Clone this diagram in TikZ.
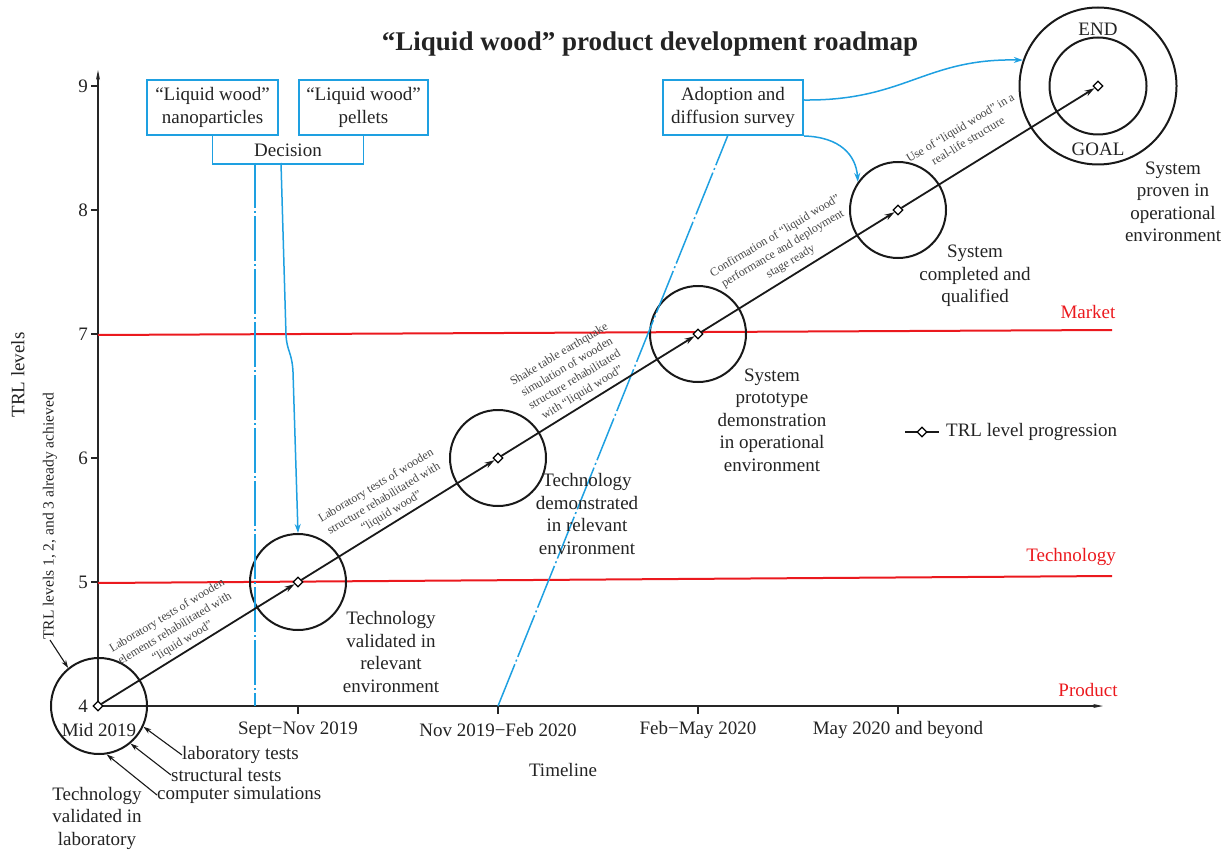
\documentclass[tikz,border=0pt]{standalone}
\usepackage{fontspec}
\setmainfont{Liberation Serif}
\usetikzlibrary{shapes.geometric,arrows.meta}
\definecolor{bl}{RGB}{30,160,225}
\definecolor{rd}{RGB}{235,25,30}
\definecolor{tx}{RGB}{35,35,35}
\definecolor{sm}{RGB}{70,70,70}
\begin{document}
\begin{tikzpicture}[x=1pt,y=-1pt,
  lbl/.style={font=\fontsize{19}{22.5}\selectfont, text=tx, align=center, inner sep=0},
  rlbl/.style={font=\fontsize{19}{22.5}\selectfont, text=rd, inner sep=0},
  small/.style={font=\fontsize{12}{15}\selectfont, text=sm, align=center, inner sep=0, rotate=31},
  ring/.style={circle, draw=black!90, line width=2pt, minimum size=96pt, inner sep=0},
  mk/.style={diamond, draw=black, fill=white, line width=1.2pt, inner sep=0, minimum size=10pt},
  prog/.style={line width=1.8pt, draw=black!90, -{Stealth[length=10pt,width=6pt]}},
  bbox/.style={draw=bl, line width=2pt, minimum height=55pt, align=center, inner sep=0,
     font=\fontsize{19}{22.5}\selectfont, text=tx},
  bline/.style={draw=bl, line width=1.5pt},
  dd/.style={bline, dash pattern=on 45pt off 3pt on 2pt off 3pt},
  rline/.style={draw=rd, line width=2pt},
  pt/.style={-{Stealth[length=8pt,width=5pt]}, line width=1.1pt, draw=black!90},
  axis/.style={line width=1.2pt, draw=black!85, -{Stealth[length=10pt,width=4pt]}}
]
\useasboundingbox (0,0) rectangle (1222,850);

% title
\node[font=\fontsize{27}{30}\selectfont\bfseries, text=tx] (title) at (650,44) {“Liquid wood” product development roadmap};

% axes
\coordinate (O) at (98,706);
\coordinate (ytop) at (98,70);
\coordinate (xend) at (1103,706);
\draw[axis] (O) -- (ytop);
\draw[axis] (O) -- (xend);
\foreach \k/\yy in {5/582,6/458,7/334,8/210,9/86}{
  \draw[line width=1.2pt, black!85] (91,\yy) -- (98,\yy);
}
\foreach \k/\yy in {4/706,5/582,6/458,7/334,8/210,9/86}{
  \node[lbl, anchor=east] (yl\k) at (88,\yy) {\k};
}
\foreach \xx in {298,498,698,898}{
  \draw[line width=1.2pt, black!85] (\xx,706) -- (\xx,714);
}
\node[lbl] (xl1) at (99,730) {Mid 2019};
\node[lbl] (xl2) at (298,730) {Sept−Nov 2019};
\node[lbl] (xl3) at (498,730) {Nov 2019−Feb 2020};
\node[lbl] (xl4) at (698,730) {Feb−May 2020};
\node[lbl] (xl5) at (898,730) {May 2020 and beyond};
\node[lbl] (tl) at (563,770) {Timeline};
\node[lbl, rotate=90] (trl) at (18,375) {TRL levels};
\node[lbl, rotate=90, anchor=west, font=\fontsize{15.5}{18}\selectfont] (trl123) at (50,640) {TRL levels 1, 2, and 3 already achieved};

% red lines
\coordinate (m1) at (98,335); \coordinate (m2) at (1112,330);
\coordinate (t1) at (98,583); \coordinate (t2) at (1112,576);
\draw[rline] (m1) -- (m2);
\draw[rline] (t1) -- (t2);
\node[rlbl] (mkt) at (1088,312) {Market};
\node[rlbl] (tech) at (1071,557) {Technology};
\node[rlbl] (prod) at (1088,690) {Product};

% blue boxes and decision
\node[bbox, minimum width=131pt] (box1) at (212.5,107.5) {“Liquid wood”\\nanoparticles};
\node[bbox, minimum width=129pt] (box2) at (363.5,107.5) {“Liquid wood”\\pellets};
\draw[bline] (box1.south) -- ++(0,28) -| (box2.south);
\node[lbl] (dec) at (288,150) {Decision};
\node[bbox, minimum width=140pt] (adopt) at (733,107.5) {Adoption and\\diffusion survey};

% circles
\node[ring] (c4) at (99,706) {};
\node[ring] (c5) at (298,582) {};
\node[ring] (c6) at (498,458) {};
\node[ring] (c7) at (698,334) {};
\node[ring] (c8) at (898,210) {};
\node[ring, minimum size=157pt] (c9o) at (1098,86) {};
\node[ring, minimum size=97pt] (c9) at (1098,86) {};
\node[lbl] (end) at (1098,29) {END};
\node[lbl] (goal) at (1098,149) {GOAL};

% blue connectors
\coordinate (dd1) at (255,163); \coordinate (dd2) at (255,706);
\draw[dd] (dd1) -- (dd2);
\coordinate (ar1) at (281,163);
\draw[bline, -{Stealth[length=9pt,width=6pt]}] (ar1) -- (286,335) .. controls (287,352) and (292,352) .. (293,372) -- (c5.north);
\coordinate (dd3) at (498,706); \coordinate (dd4) at (728,135);
\draw[dd] (dd3) -- (dd4);
\draw[bline, -{Stealth[length=9pt,width=6pt]}] ([yshift=7.5pt]adopt.east) .. controls (905,101) and (925,58) .. (c9o.161);
\draw[bline, -{Stealth[length=9pt,width=6pt]}] (adopt.south east) .. controls (840,137) and (856,155) .. (c8.145);

% progression
\node[mk] (d4) at (98,706) {};
\node[mk] (d5) at (298,582) {};
\node[mk] (d6) at (498,458) {};
\node[mk] (d7) at (698,334) {};
\node[mk] (d8) at (898,210) {};
\node[mk] (d9) at (1098,86) {};
\draw[prog] (d4) -- (d5);
\draw[prog] (d5) -- (d6);
\draw[prog] (d6) -- (d7);
\draw[prog] (d7) -- (d8);
\draw[prog] (d8) -- (d9);

% diagonal texts
\node[small] (s1) at (175,629) {Laboratory tests of wooden\\elements rehabilitated with\\“liquid wood”};
\node[small] (s2) at (384,499) {Laboratory tests of wooden\\structure rehabilitated with\\“liquid wood”};
\node[small] (s3) at (571,374) {Shake table earthquake\\simulation of wooden\\structure rehabilitated\\with “liquid wood”};
\node[small] (s4) at (783,249) {Confirmation of “liquid wood”\\performance and deployment\\stage ready};
\node[small] (s5) at (964,134) {Use of “liquid wood” in a\\real-life structure};

% stage labels
\node[lbl] (st5) at (391,652) {Technology\\validated in\\relevant\\environment};
\node[lbl] (st6) at (587,514) {Technology\\demonstrated\\in relevant\\environment};
\node[lbl] (st7) at (772,420) {System\\prototype\\demonstration\\in operational\\environment};
\node[lbl] (st8) at (975,276) {System\\completed and\\qualified};
\node[lbl] (st9) at (1173,202) {System\\proven in\\operational\\environment};
\node[lbl] (st4) at (97,818) {Technology\\validated in\\laboratory};

% lab labels and arrows
\node[lbl, anchor=west] (lt) at (182,755) {laboratory tests};
\node[lbl, anchor=west] (stt) at (171,775) {structural tests};
\node[lbl, anchor=west] (cs) at (157,795) {computer simulations};
\draw[pt] (lt.west) -- (c4.-25);
\draw[pt] (stt.west) -- (c4.-50);
\draw[pt] (cs.west) -- (c4.-81);
\draw[pt] (trl123.west) -- (c4.129);

% legend
\coordinate (lg1) at (905,432); \coordinate (lg2) at (939,432);
\draw[line width=1.8pt, black!90] (lg1) -- (lg2);
\node[mk] (lgd) at (922,432) {};
\node[lbl, anchor=west] (lgt) at (946,432) {TRL level progression};
\end{tikzpicture}
\end{document}
